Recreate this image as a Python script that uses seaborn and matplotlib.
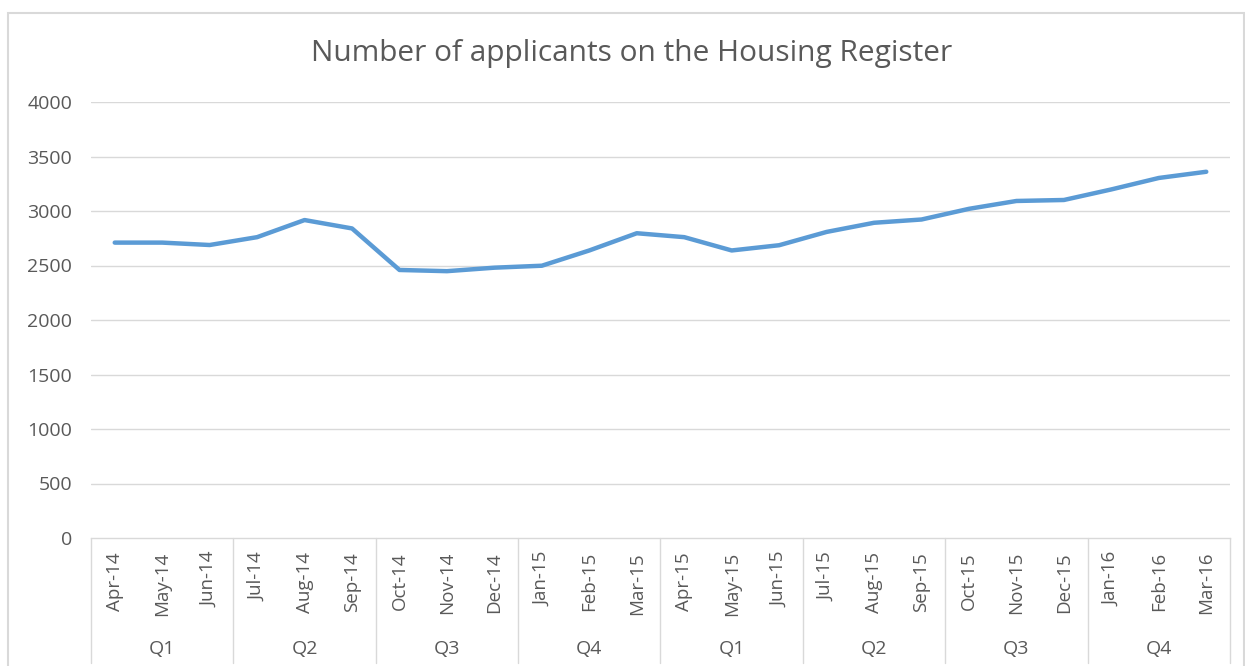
import matplotlib
matplotlib.use("Agg")
import matplotlib.pyplot as plt
import matplotlib.transforms as mtransforms
from matplotlib.patches import Rectangle
import pandas as pd
import seaborn as sns

# datos
months = ["Apr-14", "May-14", "Jun-14", "Jul-14", "Aug-14", "Sep-14",
          "Oct-14", "Nov-14", "Dec-14", "Jan-15", "Feb-15", "Mar-15",
          "Apr-15", "May-15", "Jun-15", "Jul-15", "Aug-15", "Sep-15",
          "Oct-15", "Nov-15", "Dec-15", "Jan-16", "Feb-16", "Mar-16"]
applicants = [2710, 2710, 2688, 2760, 2917, 2840,
              2459, 2448, 2480, 2498, 2638, 2796,
              2760, 2638, 2686, 2808, 2892, 2922,
              3020, 3092, 3101, 3198, 3303, 3360]
quarters = ["Q1", "Q2", "Q3", "Q4", "Q1", "Q2", "Q3", "Q4"]
yticks = [0, 500, 1000, 1500, 2000, 2500, 3000, 3500, 4000]

df = pd.DataFrame({"pos": range(len(months)), "month": months, "value": applicants})

sns.set_style("white")
plt.rcParams["font.family"] = ["Open Sans", "DejaVu Sans"]
txt = "#595959"
grid = "#D9D9D9"

W, H = 1245, 666
fig = plt.figure(figsize=(W / 100, H / 100), dpi=100)
# borde exterior del grafico
fig.patches.append(Rectangle((8 / W, -0.05), (1244 - 8) / W, 1.05 - 13 / H,
                             transform=fig.transFigure, fill=False,
                             edgecolor=grid, linewidth=1.5))

ax = fig.add_axes([91 / W, (H - 538) / H, (1230 - 91) / W, (538 - 102) / H])
sns.lineplot(data=df, x="pos", y="value", ax=ax, color="#5B9BD5", linewidth=3.2)

ax.set_xlim(-0.5, len(months) - 0.5)
ax.set_ylim(0, 4000)
ax.set_yticks(yticks)
ax.set_yticklabels([str(v) for v in yticks], color=txt, fontsize=14)
ax.tick_params(axis="y", length=0, pad=13.5)
for v in yticks[1:]:
    ax.axhline(v, color=grid, linewidth=1, zorder=0)

ax.set_xticks(range(len(months)))
ax.set_xticklabels(months, rotation=90, color=txt, fontsize=13.5)
ax.tick_params(axis="x", length=0, pad=10)
ax.set_xlabel("")
ax.set_ylabel("")
for s in ["top", "right", "left"]:
    ax.spines[s].set_visible(False)
ax.spines["bottom"].set_color(grid)
ax.spines["bottom"].set_linewidth(1)

# separadores de trimestre y etiquetas
tr = mtransforms.blended_transform_factory(ax.transData, fig.transFigure)
for k in range(len(quarters) + 1):
    xb = 3 * k - 0.5
    ax.plot([xb, xb], [1 - 538 / H, 1 - 663 / H], color=grid, linewidth=1,
            transform=tr, clip_on=False)
for k, q in enumerate(quarters):
    ax.text(3 * k + 1, 1 - 649 / H, q, transform=tr,
            ha="center", va="center", color=txt, fontsize=14)

fig.text(632 / W, 1 - 53 / H, "Number of applicants on the Housing Register",
         ha="center", va="center", color=txt, fontsize=21.5)

fig.savefig("out.png", dpi=100)
